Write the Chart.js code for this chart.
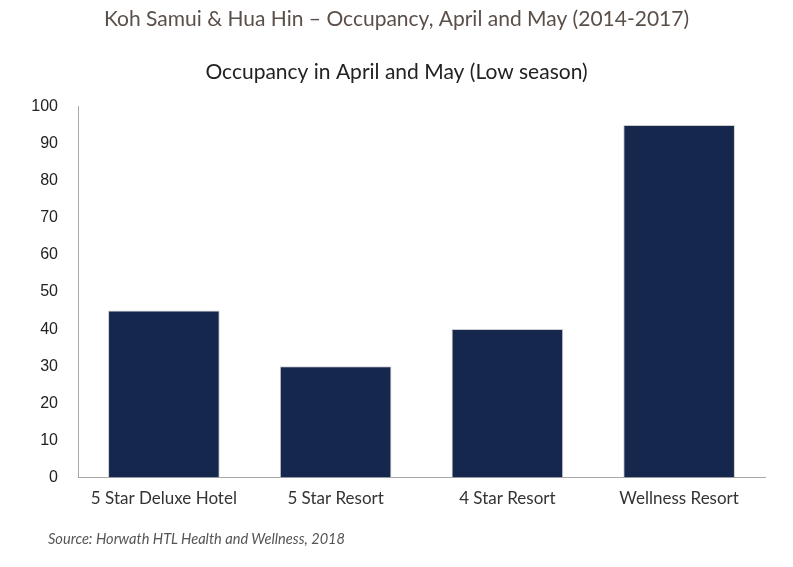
<!DOCTYPE html>
<html>
<head>
<meta charset="utf-8">
<script src="https://cdn.jsdelivr.net/npm/chart.js@4"></script>
<style>
  html, body { margin: 0; padding: 0; background: #fff; }
  #wrap { position: relative; width: 793px; height: 567px; }
  #source {
    position: absolute; left: 48px; top: 530px;
    font: italic 14.6px Lato, sans-serif; color: #555;
  }
</style>
</head>
<body>
<div id="wrap">
  <canvas id="chart" width="793" height="567"></canvas>
  <div id="source">Source: Horwath HTL Health and Wellness, 2018</div>
</div>
<script>
/*******************************************************************************
 * DATA
 */
const categories = ['5 Star Deluxe Hotel', '5 Star Resort', '4 Star Resort', 'Wellness Resort'];
const occupancy = [45, 30, 40, 95];
const yTicks = [0, 10, 20, 30, 40, 50, 60, 70, 80, 90, 100];

const mainTitle = 'Koh Samui & Hua Hin \u2013 Occupancy, April and May (2014-2017)';
const subTitle = 'Occupancy in April and May (Low season)';

/*******************************************************************************
 * CHART
 */
const barColor = '#16274e';
const axisColor = '#a8a8a8';

new Chart(document.getElementById('chart'), {
  type: 'bar',
  data: {
    labels: categories,
    datasets: [{
      label: 'Occupancy',
      data: occupancy,
      backgroundColor: barColor,
      borderColor: '#cdcdcd',
      borderWidth: { top: 1, left: 1, right: 1, bottom: 0 },
      barPercentage: 0.65,
      categoryPercentage: 1,
    }],
  },
  options: {
    responsive: false,
    animation: false,
    layout: {
      padding: { top: 6, left: 28, right: 28, bottom: 47 },
    },
    plugins: {
      legend: { display: false },
      tooltip: { enabled: false },
      title: {
        display: true,
        text: mainTitle,
        color: '#5b4f49',
        font: { family: 'Lato', size: 21, weight: 'normal' },
        padding: { top: 1, bottom: 27 },
      },
      subtitle: {
        display: true,
        text: subTitle,
        color: '#222',
        font: { family: 'Lato', size: 21, weight: 'normal' },
        padding: { top: 0, bottom: 22 },
      },
    },
    scales: {
      x: {
        grid: { display: false, drawTicks: false },
        border: { display: true, color: axisColor, width: 1 },
        ticks: {
          color: '#333',
          padding: 11,
          font: { family: 'Lato', size: 17 },
        },
      },
      y: {
        min: 0,
        max: 100,
        afterFit: (scale) => { scale.width = 50; },
        afterBuildTicks: (scale) => {
          scale.ticks = yTicks.map(v => ({ value: v }));
        },
        grid: { display: false, drawTicks: false },
        border: { display: true, color: axisColor, width: 1 },
        ticks: {
          color: '#222',
          padding: 20,
          font: { family: 'Liberation Sans', size: 16 },
        },
      },
    },
  },
});
</script>
</body>
</html>
